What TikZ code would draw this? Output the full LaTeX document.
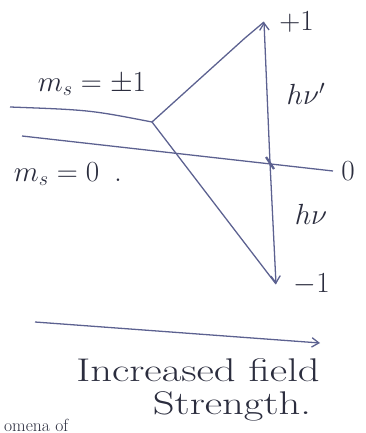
\documentclass[tikz,border=0pt]{standalone}
\usepackage{amsmath,amssymb}
\usepackage{graphicx}
\usepackage{tikz}
\usetikzlibrary{arrows.meta,positioning,calc}
\usepackage{xcolor}
\definecolor{ink}{HTML}{5C6190}
\definecolor{pen}{HTML}{2B2D3E}

\newcommand{\widetxt}[1]{\scalebox{1.3}[1]{#1}}

\tikzset{
  level/.style={draw=ink, line width=1.1pt},
  trans/.style={draw=ink, line width=1.1pt, -{Straight Barb[length=6pt,width=8pt]}},
  lbl/.style={text=pen, inner sep=1pt, font=\fontsize{27}{30}\selectfont},
  axislbl/.style={text=pen, inner sep=0pt, font=\fontsize{28}{30}\selectfont}
}

\begin{document}
\begin{tikzpicture}[x=0.03cm, y=-0.03cm]
  \useasboundingbox (0,0) rectangle (365,433);
  % energy levels
  \coordinate (pm1) at (10,107);
  \coordinate (split) at (152,122);
  \coordinate (up) at (264,22);
  \coordinate (down) at (276,284);
  \coordinate (zs) at (22,136);
  \coordinate (ze) at (333,171);
  \coordinate (cross) at (270,163);
  \draw[level] (pm1) .. controls (90,110) .. (split);
  \draw[level] (split) -- (245,38) -- (up);
  \draw[level] (split) -- (down);
  \draw[level] (zs) -- (ze);
  % transitions
  \draw[trans] (cross) -- (up);
  \draw[trans] (cross) -- (down);
  \draw[ink, line width=2pt] ($(cross)+(-4,-6)$) -- ($(cross)+(4,6)$);
  % labels
  \node[lbl] (lpm) at (92,84) {$m_s=\pm 1$};
  \node[lbl] (lzero) at (68,174) {$m_s=0$ \,.};
  \node[lbl, right=12pt of up] (lp1) {$+1$};
  \node[lbl] (lhv1) at (306,94) {$h\nu'$};
  \node[lbl, right=6pt of ze] (l0) {$0$};
  \node[lbl] (lhv) at (311,214) {$h\nu$};
  \node[lbl, right=14pt of down] (lm1) {$-1$};
  % field axis
  \coordinate (fs) at (35,322);
  \coordinate (fe) at (320,343);
  \draw[trans] (fs) -- (fe);
  \node[axislbl] (field) at (198,370) {\widetxt{Increased field}};
  \node[axislbl] (strength) at (232,406) {\widetxt{Strength.}};
  \node[text=pen, anchor=west, font=\fontsize{15}{17}\selectfont] (cut) at (0,425) {omena of};
\end{tikzpicture}
\end{document}
